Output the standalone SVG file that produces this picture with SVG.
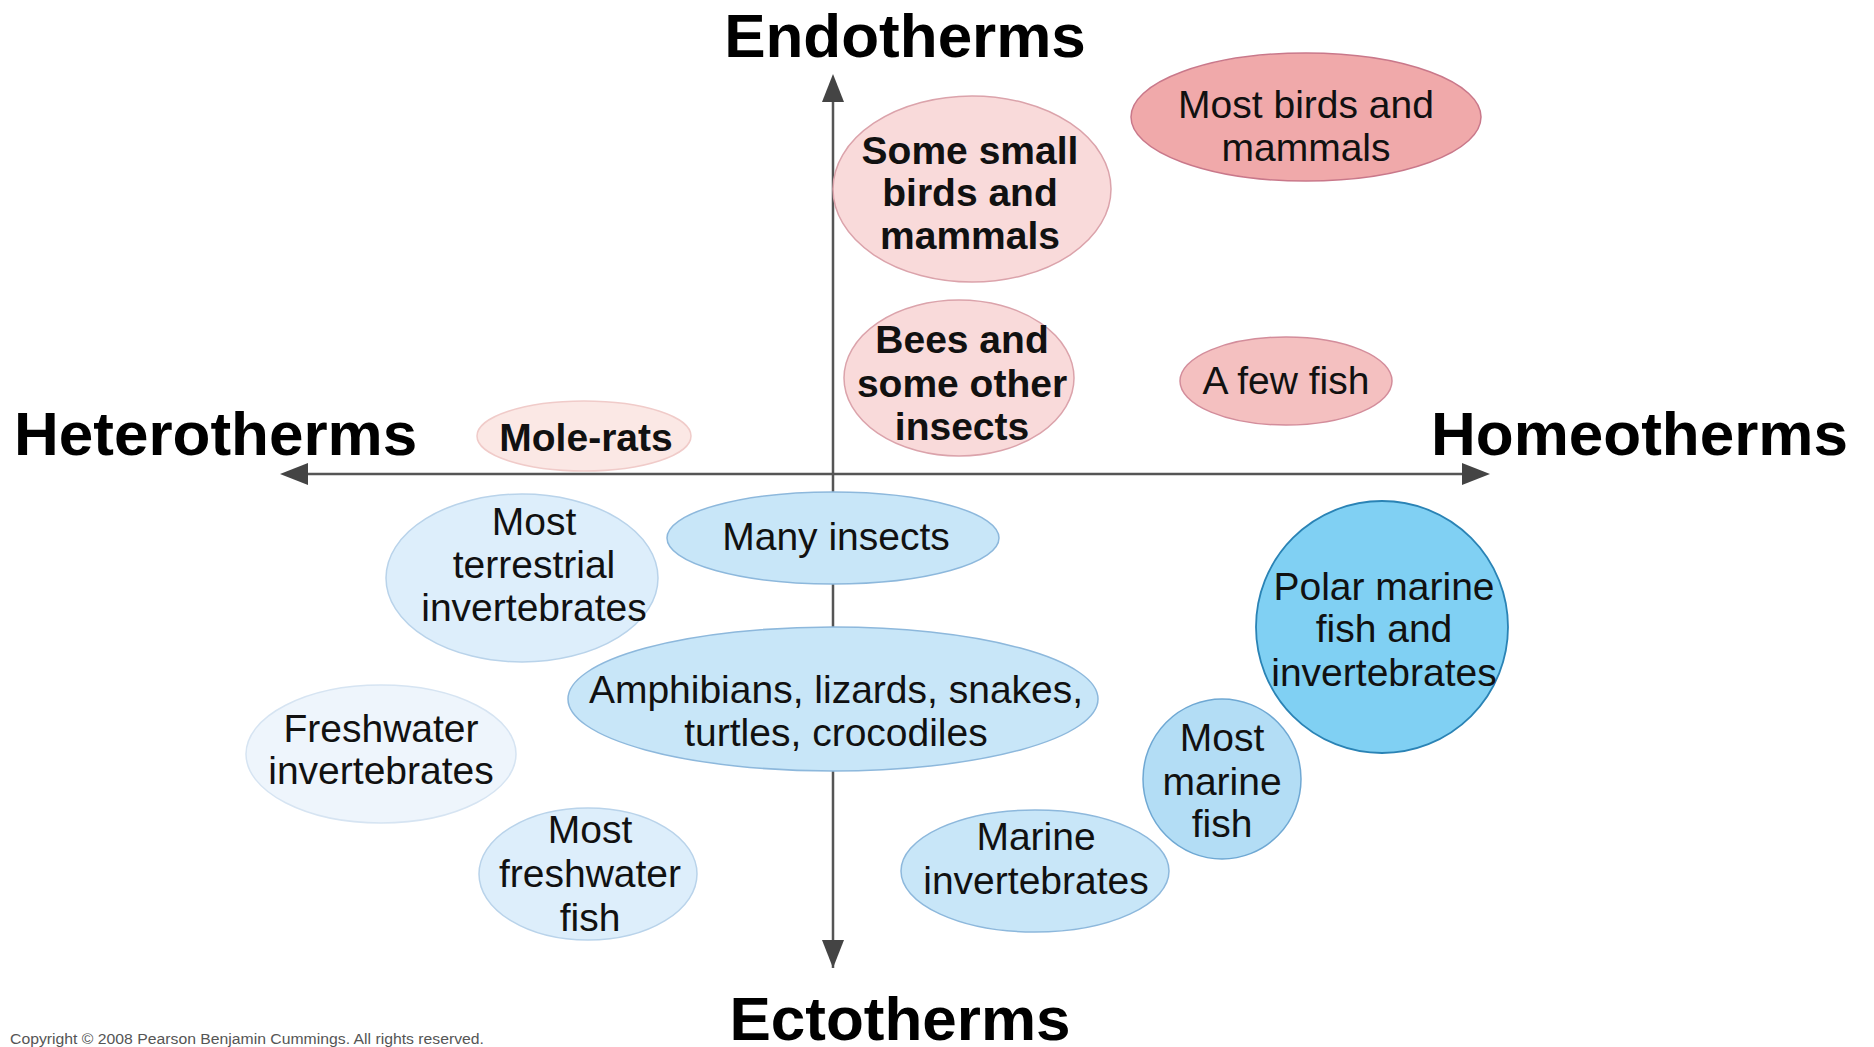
<svg xmlns="http://www.w3.org/2000/svg" width="1874" height="1047" viewBox="0 0 1874 1047">
<defs>
<marker id="ah" viewBox="0 0 10 10" refX="10" refY="5" markerWidth="10" markerHeight="10" markerUnits="userSpaceOnUse" orient="auto">
<path d="M0,0 L10,5 L0,10 Z" fill="#444"/>
</marker>
<style>
.ax{stroke:#555;stroke-width:2.5;fill:none}
.ah{fill:#444}
.title{font-family:"Liberation Sans",Arial,sans-serif;font-weight:bold;font-size:62px;fill:#000}
.t{font-family:"Liberation Sans",Arial,sans-serif;font-size:39px;fill:#111;text-anchor:middle}
.b{font-weight:bold}
.pk1{fill:#f9dada;stroke:#dba3ab;stroke-width:1.5}
.pk2{fill:#f0a9aa;stroke:#c9788a;stroke-width:1.5}
.pk3{fill:#f4c0c0;stroke:#d38d9b;stroke-width:1.5}
.pk0{fill:#fbe8e5;stroke:#f0cbc9;stroke-width:1.5}
.bl0{fill:#eef5fc;stroke:#d6e4f2;stroke-width:1.5}
.bl1{fill:#ddeefb;stroke:#b9d3ea;stroke-width:1.5}
.bl2{fill:#c8e6f8;stroke:#8db8dc;stroke-width:1.5}
.bl3{fill:#b3ddf5;stroke:#6fa8d3;stroke-width:1.5}
.bl4{fill:#80d0f3;stroke:#2a83b5;stroke-width:1.8}
</style>
</defs>
<rect width="1874" height="1047" fill="#fff"/>

<g id="axes">
<line class="ax" x1="833" y1="968" x2="833" y2="100"/>
<path class="ah" d="M833,74 L822,102 L844,102 Z"/>
<path class="ah" d="M833,968 L822,940 L844,940 Z"/>
<line class="ax" x1="300" y1="474" x2="1470" y2="474"/>
<path class="ah" d="M280,474 L308,463 L308,485 Z"/>
<path class="ah" d="M1490,474 L1462,463 L1462,485 Z"/>
</g>

<g id="labels">
<text class="title" x="905" y="57" text-anchor="middle">Endotherms</text>
<text class="title" x="14" y="455">Heterotherms</text>
<text class="title" x="1431" y="455">Homeotherms</text>
<text class="title" x="900" y="1040" text-anchor="middle">Ectotherms</text>
</g>

<g id="n-some-small">
<ellipse class="pk1" cx="972" cy="189" rx="139" ry="93"/>
<text class="t b" x="970" y="164">Some small</text>
<text class="t b" x="970" y="206">birds and</text>
<text class="t b" x="970" y="249">mammals</text>
</g>

<g id="n-most-birds">
<ellipse class="pk2" cx="1306" cy="117" rx="175" ry="64"/>
<text class="t" x="1306" y="118">Most birds and</text>
<text class="t" x="1306" y="161">mammals</text>
</g>

<g id="n-bees">
<ellipse class="pk1" cx="959" cy="378" rx="115" ry="78"/>
<text class="t b" x="962" y="353">Bees and</text>
<text class="t b" x="962" y="397">some other</text>
<text class="t b" x="962" y="440">insects</text>
</g>

<g id="n-few-fish">
<ellipse class="pk3" cx="1286" cy="381" rx="106" ry="44"/>
<text class="t" x="1286" y="394">A few fish</text>
</g>

<g id="n-mole-rats">
<ellipse class="pk0" cx="584" cy="436" rx="107" ry="35"/>
<text class="t b" x="586" y="451">Mole-rats</text>
</g>

<g id="n-terrestrial">
<ellipse class="bl1" cx="522" cy="578" rx="136" ry="84"/>
<text class="t" x="534" y="535">Most</text>
<text class="t" x="534" y="578">terrestrial</text>
<text class="t" x="534" y="621">invertebrates</text>
</g>

<g id="n-many-insects">
<ellipse class="bl2" cx="833" cy="538" rx="166" ry="46"/>
<text class="t" x="836" y="550">Many insects</text>
</g>

<g id="n-amphibians">
<ellipse class="bl2" cx="833" cy="699" rx="265" ry="72"/>
<text class="t" x="836" y="703">Amphibians, lizards, snakes,</text>
<text class="t" x="836" y="746">turtles, crocodiles</text>
</g>

<g id="n-freshwater-inv">
<ellipse class="bl0" cx="381" cy="754" rx="135" ry="69"/>
<text class="t" x="381" y="742">Freshwater</text>
<text class="t" x="381" y="784">invertebrates</text>
</g>

<g id="n-freshwater-fish">
<ellipse class="bl1" cx="588" cy="874" rx="109" ry="66"/>
<text class="t" x="590" y="843">Most</text>
<text class="t" x="590" y="887">freshwater</text>
<text class="t" x="590" y="931">fish</text>
</g>

<g id="n-marine-inv">
<ellipse class="bl2" cx="1035" cy="871" rx="134" ry="61"/>
<text class="t" x="1036" y="850">Marine</text>
<text class="t" x="1036" y="894">invertebrates</text>
</g>

<g id="n-marine-fish">
<ellipse class="bl3" cx="1222" cy="779" rx="79" ry="80"/>
<text class="t" x="1222" y="751">Most</text>
<text class="t" x="1222" y="795">marine</text>
<text class="t" x="1222" y="837">fish</text>
</g>

<g id="n-polar">
<ellipse class="bl4" cx="1382" cy="627" rx="126" ry="126"/>
<text class="t" x="1384" y="600">Polar marine</text>
<text class="t" x="1384" y="642">fish and</text>
<text class="t" x="1384" y="686">invertebrates</text>
</g>

<text x="10" y="1044" font-family="Liberation Sans,Arial,sans-serif" font-size="14" fill="#555" textLength="474" lengthAdjust="spacingAndGlyphs">Copyright © 2008 Pearson Benjamin Cummings. All rights reserved.</text>
</svg>
